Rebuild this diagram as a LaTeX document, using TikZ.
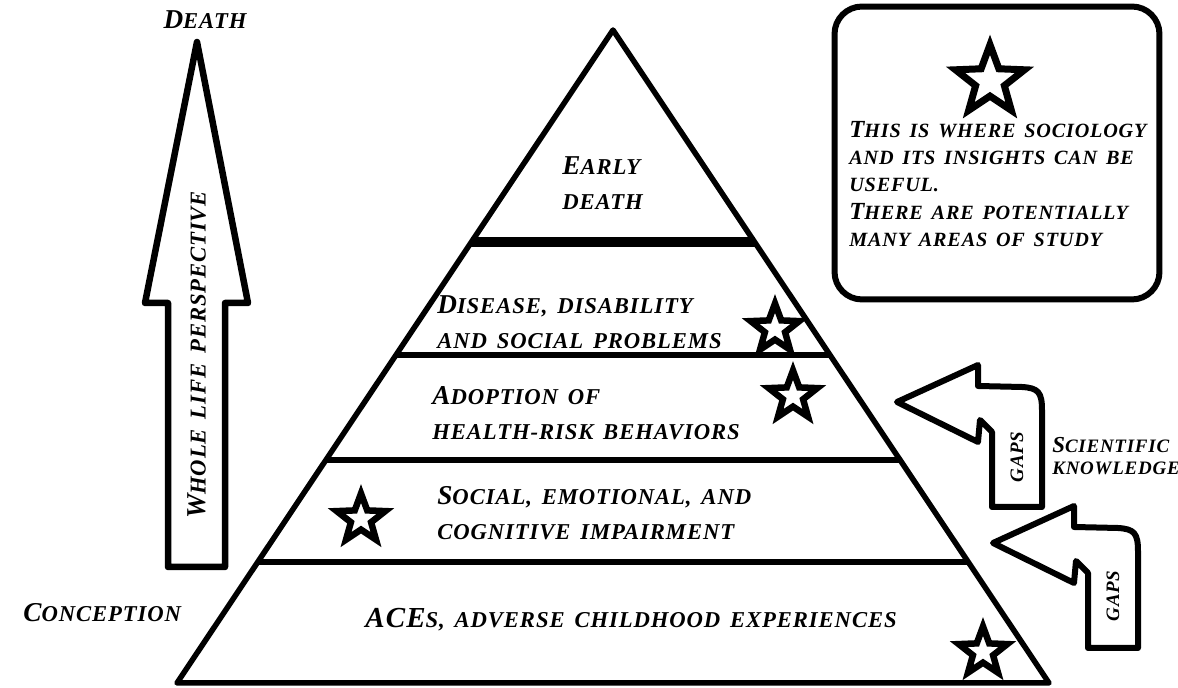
\documentclass[tikz,border=0pt]{standalone}
\usepackage{fontspec}
\setmainfont{Liberation Serif}[LetterSpace=4, WordSpace=1.5]
\usetikzlibrary{shapes.geometric,positioning,calc}
% big initial letter for the fake small caps
\newcommand\Ini[2][15.5]{{\fontsize{#1}{#1}\selectfont #2}}
\tikzset{%
  % Specifications for style of nodes:
       tierText/.style = {font=\bfseries\itshape\fontsize{12.9}{20}\selectfont,
                          align=left, inner sep=0pt},
        boxText/.style = {font=\bfseries\itshape\fontsize{11.5}{15.4}\selectfont,
                          align=left, inner sep=0pt},
       sideText/.style = {font=\bfseries\itshape\fontsize{10.8}{12.8}\selectfont,
                          align=left, inner sep=0pt},
       starMark/.style = {star, star points=5, star point ratio=2.4, draw,
                          line width=0.13cm, minimum size=1.02cm, inner sep=0pt},
      blockLine/.style = {draw, line width=0.13cm, line join=round},
}
\begin{document}
\begin{tikzpicture}[x=0.02cm, y=-0.02cm]
  \useasboundingbox (0,0) rectangle (1178,688);
  % pyramid
  \coordinate (apex)  at (613,30);
  \coordinate (baseL) at (177,683);
  \coordinate (baseR) at (1049,683);
  \draw[line width=0.11cm, line join=round] (apex) -- (baseL) -- (baseR) -- cycle;
  \draw[line width=0.2cm] ($(apex)!0.3247!(baseL)$) -- ($(apex)!0.3247!(baseR)$);
  \foreach \t in {0.4977,0.6585,0.8147}
    \draw[line width=0.11cm] ($(apex)!\t!(baseL)$) -- ($(apex)!\t!(baseR)$);

  % Specification of the tier labels
  \node (earlyDeath) [tierText, anchor=west] at (562,183) {\Ini{E}ARLY\\DEATH};
  \node (disease)    [tierText, anchor=west] at (437,322) {\Ini{D}ISEASE, DISABILITY\\AND SOCIAL PROBLEMS};
  \node (adoption)   [tierText, anchor=west] at (432,413) {\Ini{A}DOPTION OF\\HEALTH-RISK BEHAVIORS};
  \node (impairment) [tierText, anchor=west] at (437,513) {\Ini{S}OCIAL, EMOTIONAL, AND\\COGNITIVE IMPAIRMENT};
  \node (aces)       [tierText] at (631,620) {\Ini[16.5]{ACE}S, ADVERSE CHILDHOOD EXPERIENCES};

  \node (starDisease)    [starMark] at (775,329) {};
  \node (starAdoption)   [starMark] at (793,396) {};
  \node (starImpairment) [starMark] at (361,519) {};
  \node (starAces)       [starMark] at (983,652) {};

  % whole life arrow
  \draw[blockLine] (168,567) -- (168,303) -- (145,303) -- (197,42)
        -- (248,303) -- (225,303) -- (225,567) -- cycle;
  \node (wholeLife)  [tierText, rotate=90] at (197,355) {\Ini{W}HOLE LIFE PERSPECTIVE};
  \node (death)      [tierText] at (205,20) {\Ini{D}EATH};
  \node (conception) [tierText, anchor=west] at (23,613) {\Ini{C}ONCEPTION};

  % sociology box
  \node (sociologyBox) [draw, line width=0.12cm, rounded corners=0.55cm,
        minimum width=6.5cm, minimum height=5.86cm] at (997,153) {};
  \node (starBox) [starMark, minimum size=1.45cm, line width=0.14cm] at (990,81) {};
  \node (sociology) [boxText, anchor=west] at (849,184)
        {\Ini[14]{T}HIS IS WHERE SOCIOLOGY\\AND ITS INSIGHTS CAN BE\\USEFUL.\\
         \Ini[14]{T}HERE ARE POTENTIALLY\\MANY AREAS OF STUDY};

  % gaps arrows
  \foreach \dx/\dy in {0/0, 96/141}
    \draw[blockLine, line width=0.12cm, shift={(\dx,\dy)}]
      (992,507) -- (1042,507) -- (1042,410) .. controls (1042,392) and (1038,388) .. (1022,387)
      -- (978,386) -- (978,365) -- (897,402) -- (978,442) -- (980,420) -- (992,432) -- cycle;
  \node (gapsUpper) [sideText, rotate=90] at (1017,457) {GAPS};
  \node (gapsLower) [sideText, rotate=90] at (1113,596) {GAPS};
  \node (knowledge) [sideText, anchor=west] at (1052,456) {\Ini[13]{S}CIENTIFIC\\KNOWLEDGE};
\end{tikzpicture}
\end{document}
